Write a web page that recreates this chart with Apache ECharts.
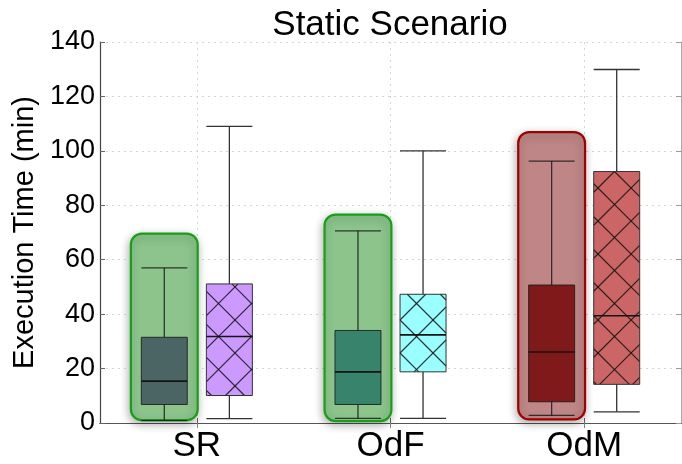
<!DOCTYPE html>
<html>
<head>
<meta charset="utf-8">
<script src="https://cdn.jsdelivr.net/npm/echarts@6/dist/echarts.min.js"></script>
<style>html,body{margin:0;padding:0;background:#fff}#c{width:682px;height:464px}</style>
</head>
<body>
<div id="c"></div>
<script>
// ---- data ----
const categories = ['SR', 'OdF', 'OdM'];
const yTicks = [0, 20, 40, 60, 80, 100, 120, 140];
// [lowerWhisker, q1, median, q3, upperWhisker]  (minutes)
const highlightedStats = [
  [1.0, 6.8, 15.4, 31.5, 57.0],
  [1.7, 6.8, 18.8, 34.0, 70.6],
  [2.8, 7.8, 26.1, 50.7, 96.2]
];
const hatchedStats = [
  [1.6, 10.1, 31.8, 51.1, 109.0],
  [1.7, 18.8, 32.4, 47.3, 100.0],
  [4.1, 14.2, 39.4, 92.4, 129.9]
];
const highlightTop = [69.6, 76.6, 106.9];
const highlightBottom = [1.0, 0.7, 1.3];

// ---- styles ----
const leftFill = ['#4b6565', '#37836c', '#801a1a'];
const rightFill = ['#cc99ff', '#99ffff', '#cc6666'];
const hlFill = ['#8cc48c', '#8cc48c', '#be8686'];
const hlStroke = ['#17a017', '#17a017', '#a00000'];

function statData(stats) {
  return stats.map((s, i) => [i].concat(s));
}

function hatchLines(x0, y0, x1, y1) {
  const P = 33, pa = 27, pd = 14;
  const out = [];
  const st = {stroke: 'rgba(20,20,20,0.85)', lineWidth: 1.2};
  let c = Math.ceil((x0 + y0 - pa) / P) * P + pa;
  for (; c <= x1 + y1; c += P) {
    const xa = Math.max(x0, c - y1), xb = Math.min(x1, c - y0);
    if (xb > xa) out.push({type: 'line', shape: {x1: xa, y1: c - xa, x2: xb, y2: c - xb}, style: st});
  }
  let d = Math.ceil((x0 - y1 - pd) / P) * P + pd;
  for (; d <= x1 - y0; d += P) {
    const xa = Math.max(x0, d + y0), xb = Math.min(x1, d + y1);
    if (xb > xa) out.push({type: 'line', shape: {x1: xa, y1: xa - d, x2: xb, y2: xb - d}, style: st});
  }
  return out;
}

function boxRenderer(offsetFrac, fills, hatched, strokeCol) {
  return function (params, api) {
    const idx = api.value(0);
    const band = api.size([1, 0])[0];
    const cx = api.coord([idx, 0])[0] + offsetFrac * band;
    const w = 0.2375 * band;
    const yl = api.coord([idx, api.value(1)])[1];
    const yq1 = api.coord([idx, api.value(2)])[1];
    const ym = api.coord([idx, api.value(3)])[1];
    const yq3 = api.coord([idx, api.value(4)])[1];
    const yh = api.coord([idx, api.value(5)])[1];
    const x0 = cx - w / 2, x1 = cx + w / 2;
    const ws = {stroke: strokeCol, lineWidth: 1.3};
    const children = [
      {type: 'line', shape: {x1: cx, y1: yh, x2: cx, y2: yq3}, style: ws},
      {type: 'line', shape: {x1: cx, y1: yq1, x2: cx, y2: yl}, style: ws},
      {type: 'line', shape: {x1: x0, y1: yh, x2: x1, y2: yh}, style: ws},
      {type: 'line', shape: {x1: x0, y1: yl, x2: x1, y2: yl}, style: ws},
      {type: 'rect', shape: {x: x0, y: yq3, width: w, height: yq1 - yq3}, style: {fill: fills[idx], stroke: 'none'}}
    ];
    if (hatched) {
      hatchLines(x0, yq3, x1, yq1).forEach(l => children.push(l));
    }
    children.push({type: 'rect', shape: {x: x0, y: yq3, width: w, height: yq1 - yq3}, style: {fill: 'none', stroke: strokeCol, lineWidth: 1}});
    children.push({type: 'line', shape: {x1: x0, y1: ym, x2: x1, y2: ym}, style: {stroke: '#141414', lineWidth: 1.6}});
    return {type: 'group', children: children};
  };
}

const chart = echarts.init(document.getElementById('c'), null, {renderer: 'canvas'});
const font = '"Liberation Sans", Arial, Helvetica, sans-serif';

chart.setOption({
  animation: false,
  backgroundColor: '#fff',
  title: {
    text: 'Static Scenario',
    left: 385, textAlign: 'center', top: 3,
    textStyle: {fontFamily: font, fontSize: 35, fontWeight: 'normal', color: '#000'}
  },
  grid: {left: 100, right: 1, top: 42, bottom: 39, containLabel: false},
  xAxis: [{
    type: 'category', data: categories, boundaryGap: true,
    axisLine: {lineStyle: {color: '#444', width: 1.2}},
    axisTick: {show: true, inside: true, alignWithLabel: true, length: 5, lineStyle: {color: '#666'}},
    axisLabel: {fontFamily: font, fontSize: 35, color: '#000', margin: 6},
    splitLine: {show: true, alignWithLabel: true, lineStyle: {color: '#d4d4d4', type: [2, 4], width: 1}}
  }, {
    type: 'category', data: categories, boundaryGap: true, position: 'top',
    axisLine: {lineStyle: {color: '#555', width: 1.2}},
    axisTick: {show: true, inside: true, alignWithLabel: true, length: 5, lineStyle: {color: '#888'}},
    axisLabel: {show: false}, splitLine: {show: false}
  }],
  yAxis: [{
    type: 'value', min: 0, max: 140, interval: 20,
    axisLine: {show: true, lineStyle: {color: '#444', width: 1.2}},
    axisTick: {show: true, inside: true, length: 5, lineStyle: {color: '#666'}},
    axisLabel: {fontFamily: font, fontSize: 27, color: '#000', margin: 5,
      formatter: v => yTicks.indexOf(v) >= 0 ? String(v) : ''},
    splitLine: {show: true, lineStyle: {color: '#d4d4d4', type: [2, 4], width: 1}},
    name: 'Execution Time (min)', nameLocation: 'middle', nameGap: 58,
    nameTextStyle: {fontFamily: font, fontSize: 29, color: '#000'}
  }, {
    type: 'value', min: 0, max: 140, interval: 20, position: 'right',
    axisLine: {show: true, lineStyle: {color: '#aaa', width: 1}},
    axisTick: {show: true, inside: true, length: 5, lineStyle: {color: '#999'}},
    axisLabel: {show: false}, splitLine: {show: false}
  }],
  series: [{
    type: 'custom', name: 'highlight', z: 2,
    data: categories.map((c, i) => [i, highlightBottom[i], highlightTop[i]]),
    renderItem: function (params, api) {
      const idx = api.value(0);
      const band = api.size([1, 0])[0];
      const cx = api.coord([idx, 0])[0] - 0.168 * band;
      const w = 0.345 * band;
      const yb = api.coord([idx, api.value(1)])[1];
      const yt = api.coord([idx, api.value(2)])[1];
      return {type: 'rect', shape: {x: cx - w / 2, y: yt, width: w, height: yb - yt, r: 11},
        style: {fill: hlFill[idx], stroke: hlStroke[idx], lineWidth: 2.2,
          shadowBlur: 8, shadowColor: 'rgba(0,0,0,0.3)', shadowOffsetX: -1, shadowOffsetY: 3}};
    }
  }, {
    type: 'custom', name: 'baseline', z: 3,
    data: statData(highlightedStats),
    renderItem: boxRenderer(-0.168, leftFill, false, 'rgba(20,20,20,0.8)')
  }, {
    type: 'custom', name: 'alternative', z: 3,
    data: statData(hatchedStats),
    renderItem: boxRenderer(0.168, rightFill, true, '#333')
  }]
});
</script>
</body>
</html>
